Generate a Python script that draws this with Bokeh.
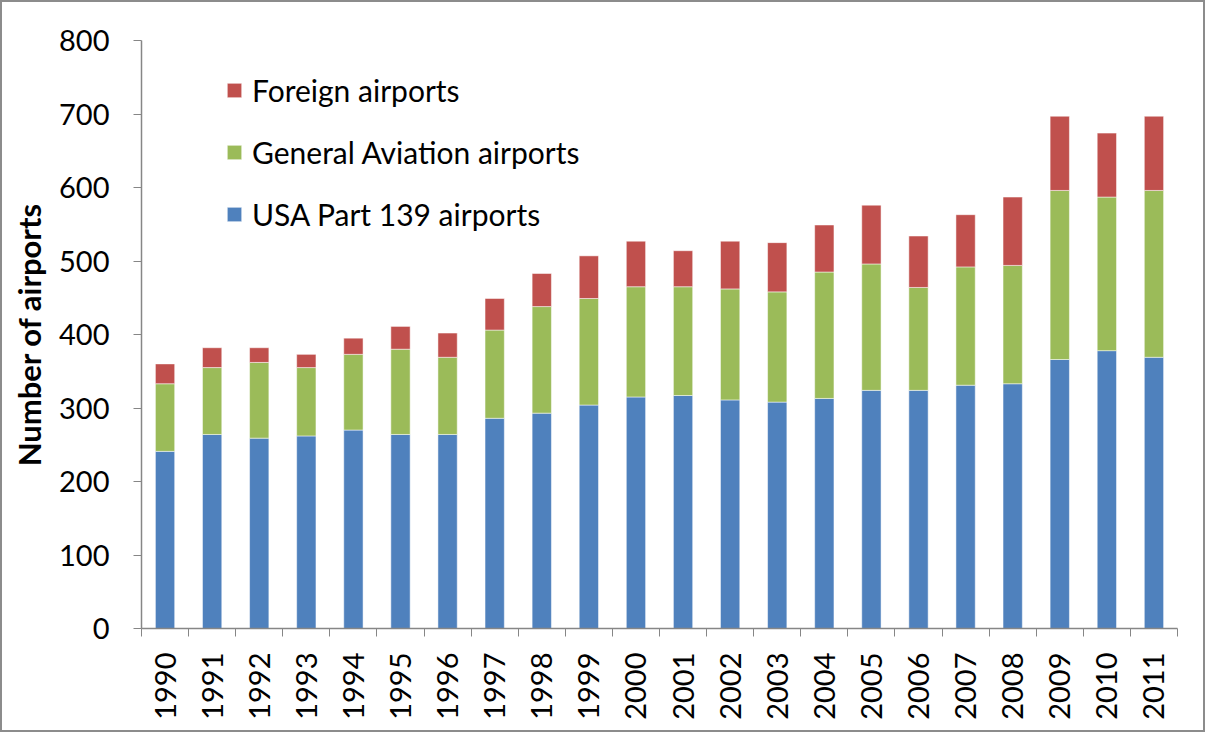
from bokeh.plotting import figure
from bokeh.models import FixedTicker, Legend, LegendItem, Range1d
from bokeh.embed import file_html
from bokeh.resources import INLINE
import math

years = ["1990", "1991", "1992", "1993", "1994", "1995", "1996", "1997", "1998", "1999", "2000",
         "2001", "2002", "2003", "2004", "2005", "2006", "2007", "2008", "2009", "2010", "2011"]
usa_part139 = [241, 264, 259, 262, 270, 264, 264, 286, 293, 304, 315,
               317, 311, 308, 313, 324, 324, 331, 333, 366, 378, 369]
general_aviation = [92, 91, 103, 93, 103, 116, 105, 120, 145, 145, 150,
                    148, 151, 150, 172, 172, 140, 161, 161, 230, 209, 227]
foreign = [27, 27, 20, 18, 22, 31, 33, 43, 45, 58, 62,
           49, 65, 67, 64, 80, 70, 71, 93, 101, 87, 101]

FONT = "Lato"
x = list(range(len(years)))
data = dict(x=x, usa=usa_part139, ga=general_aviation, foreign=foreign)

p = figure(width=1205, height=732, output_backend="svg", toolbar_location=None,
           x_range=Range1d(-0.5, len(years) - 0.5), y_range=Range1d(0, 800),
           min_border_left=139, min_border_top=38, min_border_bottom=106, min_border_right=30)
p.styles = {"border": "2px solid #8c8c8c"}
p.outline_line_color = None
p.grid.visible = False

rs = p.vbar_stack(["usa", "ga", "foreign"], x="x", width=0.41, source=data,
                  color=["#4F81BD", "#9BBB59", "#C0504D"], line_color="white", line_alpha=0.5)

# axes
p.yaxis.ticker = FixedTicker(ticks=list(range(0, 801, 100)))
p.xaxis.ticker = FixedTicker(ticks=x, minor_ticks=[i - 0.5 for i in range(len(years) + 1)])
p.xaxis.major_label_overrides = {i: y for i, y in enumerate(years)}
for ax in (p.xaxis, p.yaxis):
    ax.axis_line_color = "#868686"
    ax.axis_line_width = 1.5
    ax.major_label_text_font = FONT
    ax.major_label_text_font_size = "29px"
    ax.major_label_text_color = "#000000"
p.yaxis.major_tick_line_color = "#868686"
p.yaxis.major_tick_out = 8
p.yaxis.major_tick_in = 0
p.yaxis.minor_tick_line_color = None
p.yaxis.major_label_standoff = 24
p.xaxis.major_tick_line_color = None
p.xaxis.minor_tick_line_color = "#868686"
p.xaxis.minor_tick_out = 8
p.xaxis.minor_tick_in = 0
p.xaxis.major_label_orientation = math.pi / 2
p.xaxis.major_label_standoff = 16

p.yaxis.axis_label = "Number of airports"
p.yaxis.axis_label_text_font = FONT
p.yaxis.axis_label_text_font_style = "bold"
p.yaxis.axis_label_text_font_size = "31px"
p.yaxis.axis_label_text_color = "#000000"
p.yaxis.axis_label_standoff = 8

legend = Legend(items=[LegendItem(label="Foreign airports", renderers=[rs[2]]),
                       LegendItem(label="General Aviation airports", renderers=[rs[1]]),
                       LegendItem(label="USA Part 139 airports", renderers=[rs[0]])],
                location=(84, 396))
legend.label_text_font = FONT
legend.label_text_font_size = "30px"
legend.label_text_color = "#000000"
legend.glyph_width = 18
legend.glyph_height = 18
legend.label_height = 34
legend.spacing = 26
legend.label_standoff = 9
legend.padding = 0
legend.margin = 0
legend.border_line_color = None
legend.background_fill_alpha = 0
p.add_layout(legend)

open("out.html", "w").write(file_html(p, INLINE))
